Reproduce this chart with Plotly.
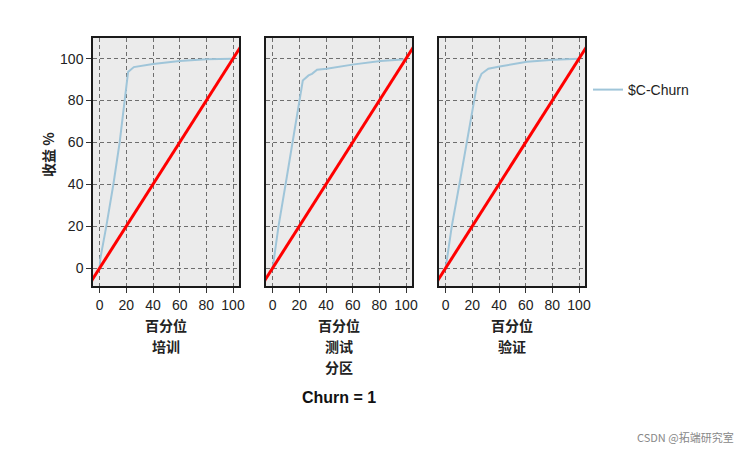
import plotly.graph_objects as go

# gains curves ($C-Churn), percentile vs gain %
train_x = [0, 0.5, 5, 10.3, 15, 18.5, 21.3, 25.6, 40, 60, 80, 100]
train_y = [0, 4.5, 20, 40, 60, 80, 93.6, 96, 97.5, 98.9, 99.8, 100]

test_x = [0, 0.8, 4.4, 9.7, 14.9, 20, 22.6, 26.9, 29.5, 33.3, 40.5, 61, 81, 100]
test_y = [0, 3.7, 20, 40, 60, 80, 89.6, 92, 92.8, 94.7, 95.2, 97.3, 98.9, 99.7]

valid_x = [0, 0.6, 4.6, 10.3, 15.9, 21.3, 23.6, 26.9, 32, 40.5, 61, 81, 100]
valid_y = [0, 2.5, 20, 40, 60, 80, 88, 92.8, 95.2, 96.3, 98.6, 99.5, 100]

# baseline diagonal
base_x = [-10, 110]
base_y = [-10, 110]

panel_names = [["培训"], ["测试", "分区"], ["验证"]]
panel_data = [(train_x, train_y), (test_x, test_y), (valid_x, valid_y)]
x_ticks = [0, 20, 40, 60, 80, 100]
y_ticks = [0, 20, 40, 60, 80, 100]

W, H = 747, 450
OFF = 8  # page body margin


def px_x(p):
    return (p - OFF) / W


def px_y(p):
    return 1 - (p - OFF) / H


px_left = [93, 266, 439]
px_width = 146
y_top, y_bot = 38, 286

CJK = "Noto Sans CJK SC"
LAT = "Liberation Sans, Arial"

fig = go.Figure()
annotations = []
for i, (xs, ys) in enumerate(panel_data):
    n = "" if i == 0 else str(i + 1)
    fig.add_trace(go.Scatter(
        x=xs, y=ys, mode="lines", name="$C-Churn",
        line=dict(color="#9fc5d9", width=2),
        showlegend=(i == 0), xaxis="x" + n, yaxis="y" + n,
    ))
    fig.add_trace(go.Scatter(
        x=base_x, y=base_y, mode="lines", showlegend=False,
        line=dict(color="#ff0000", width=3), xaxis="x" + n, yaxis="y" + n,
    ))
    axis_common = dict(
        showline=True, linecolor="#1a1a1a", linewidth=1.5, mirror=True,
        showgrid=True, gridcolor="#6e6e6e", griddash="4px,3px", gridwidth=1,
        zeroline=False, ticklen=5, tickcolor="#333", automargin=False,
        tickfont=dict(family=LAT, size=14, color="#222"),
    )
    fig.update_layout({
        "xaxis" + n: dict(axis_common, domain=[px_x(px_left[i]), px_x(px_left[i] + px_width)],
                          range=[-5, 104.5], tickvals=x_ticks, ticks="outside",
                          anchor="y" + n),
        "yaxis" + n: dict(axis_common, domain=[px_y(y_bot), px_y(y_top)],
                          range=[-8.6, 109.9], tickvals=y_ticks,
                          ticks="outside" if i == 0 else "",
                          showticklabels=(i == 0), anchor="x" + n),
    })
    cx = px_x(px_left[i] + px_width / 2)
    for j, line in enumerate(["百分位"] + panel_names[i]):
        annotations.append(dict(
            text="<b>" + line + "</b>",
            x=cx, y=px_y(325 + 21 * j), xref="paper", yref="paper",
            xanchor="center", yanchor="middle", showarrow=False,
            font=dict(family=CJK, size=14, color="#222"),
        ))

annotations.append(dict(
    text="<b>收益 %</b>", x=px_x(48), y=px_y(155), xref="paper", yref="paper",
    xanchor="center", yanchor="middle", textangle=-90, showarrow=False,
    font=dict(family=CJK, size=14, color="#222"),
))
annotations.append(dict(
    text="<b>Churn = 1</b>", x=px_x(339), y=px_y(397), xref="paper", yref="paper",
    xanchor="center", yanchor="middle", showarrow=False,
    font=dict(family=LAT, size=16, color="#111"),
))
annotations.append(dict(
    text="CSDN @拓端研究室", x=px_x(736), y=px_y(437), xref="paper", yref="paper",
    xanchor="right", yanchor="middle", showarrow=False,
    font=dict(family=CJK, size=11, color="#888"),
))

fig.update_layout(
    width=W, height=H,
    margin=dict(l=0, r=0, t=0, b=0),
    paper_bgcolor="white",
    plot_bgcolor="#ebebeb",
    annotations=annotations,
    showlegend=True,
    legend=dict(x=px_x(588), y=px_y(74), xanchor="left", yanchor="top",
                font=dict(family=LAT, size=14, color="#222"),
                itemwidth=30, bgcolor="rgba(0,0,0,0)"),
)
fig.write_html("out.html")
